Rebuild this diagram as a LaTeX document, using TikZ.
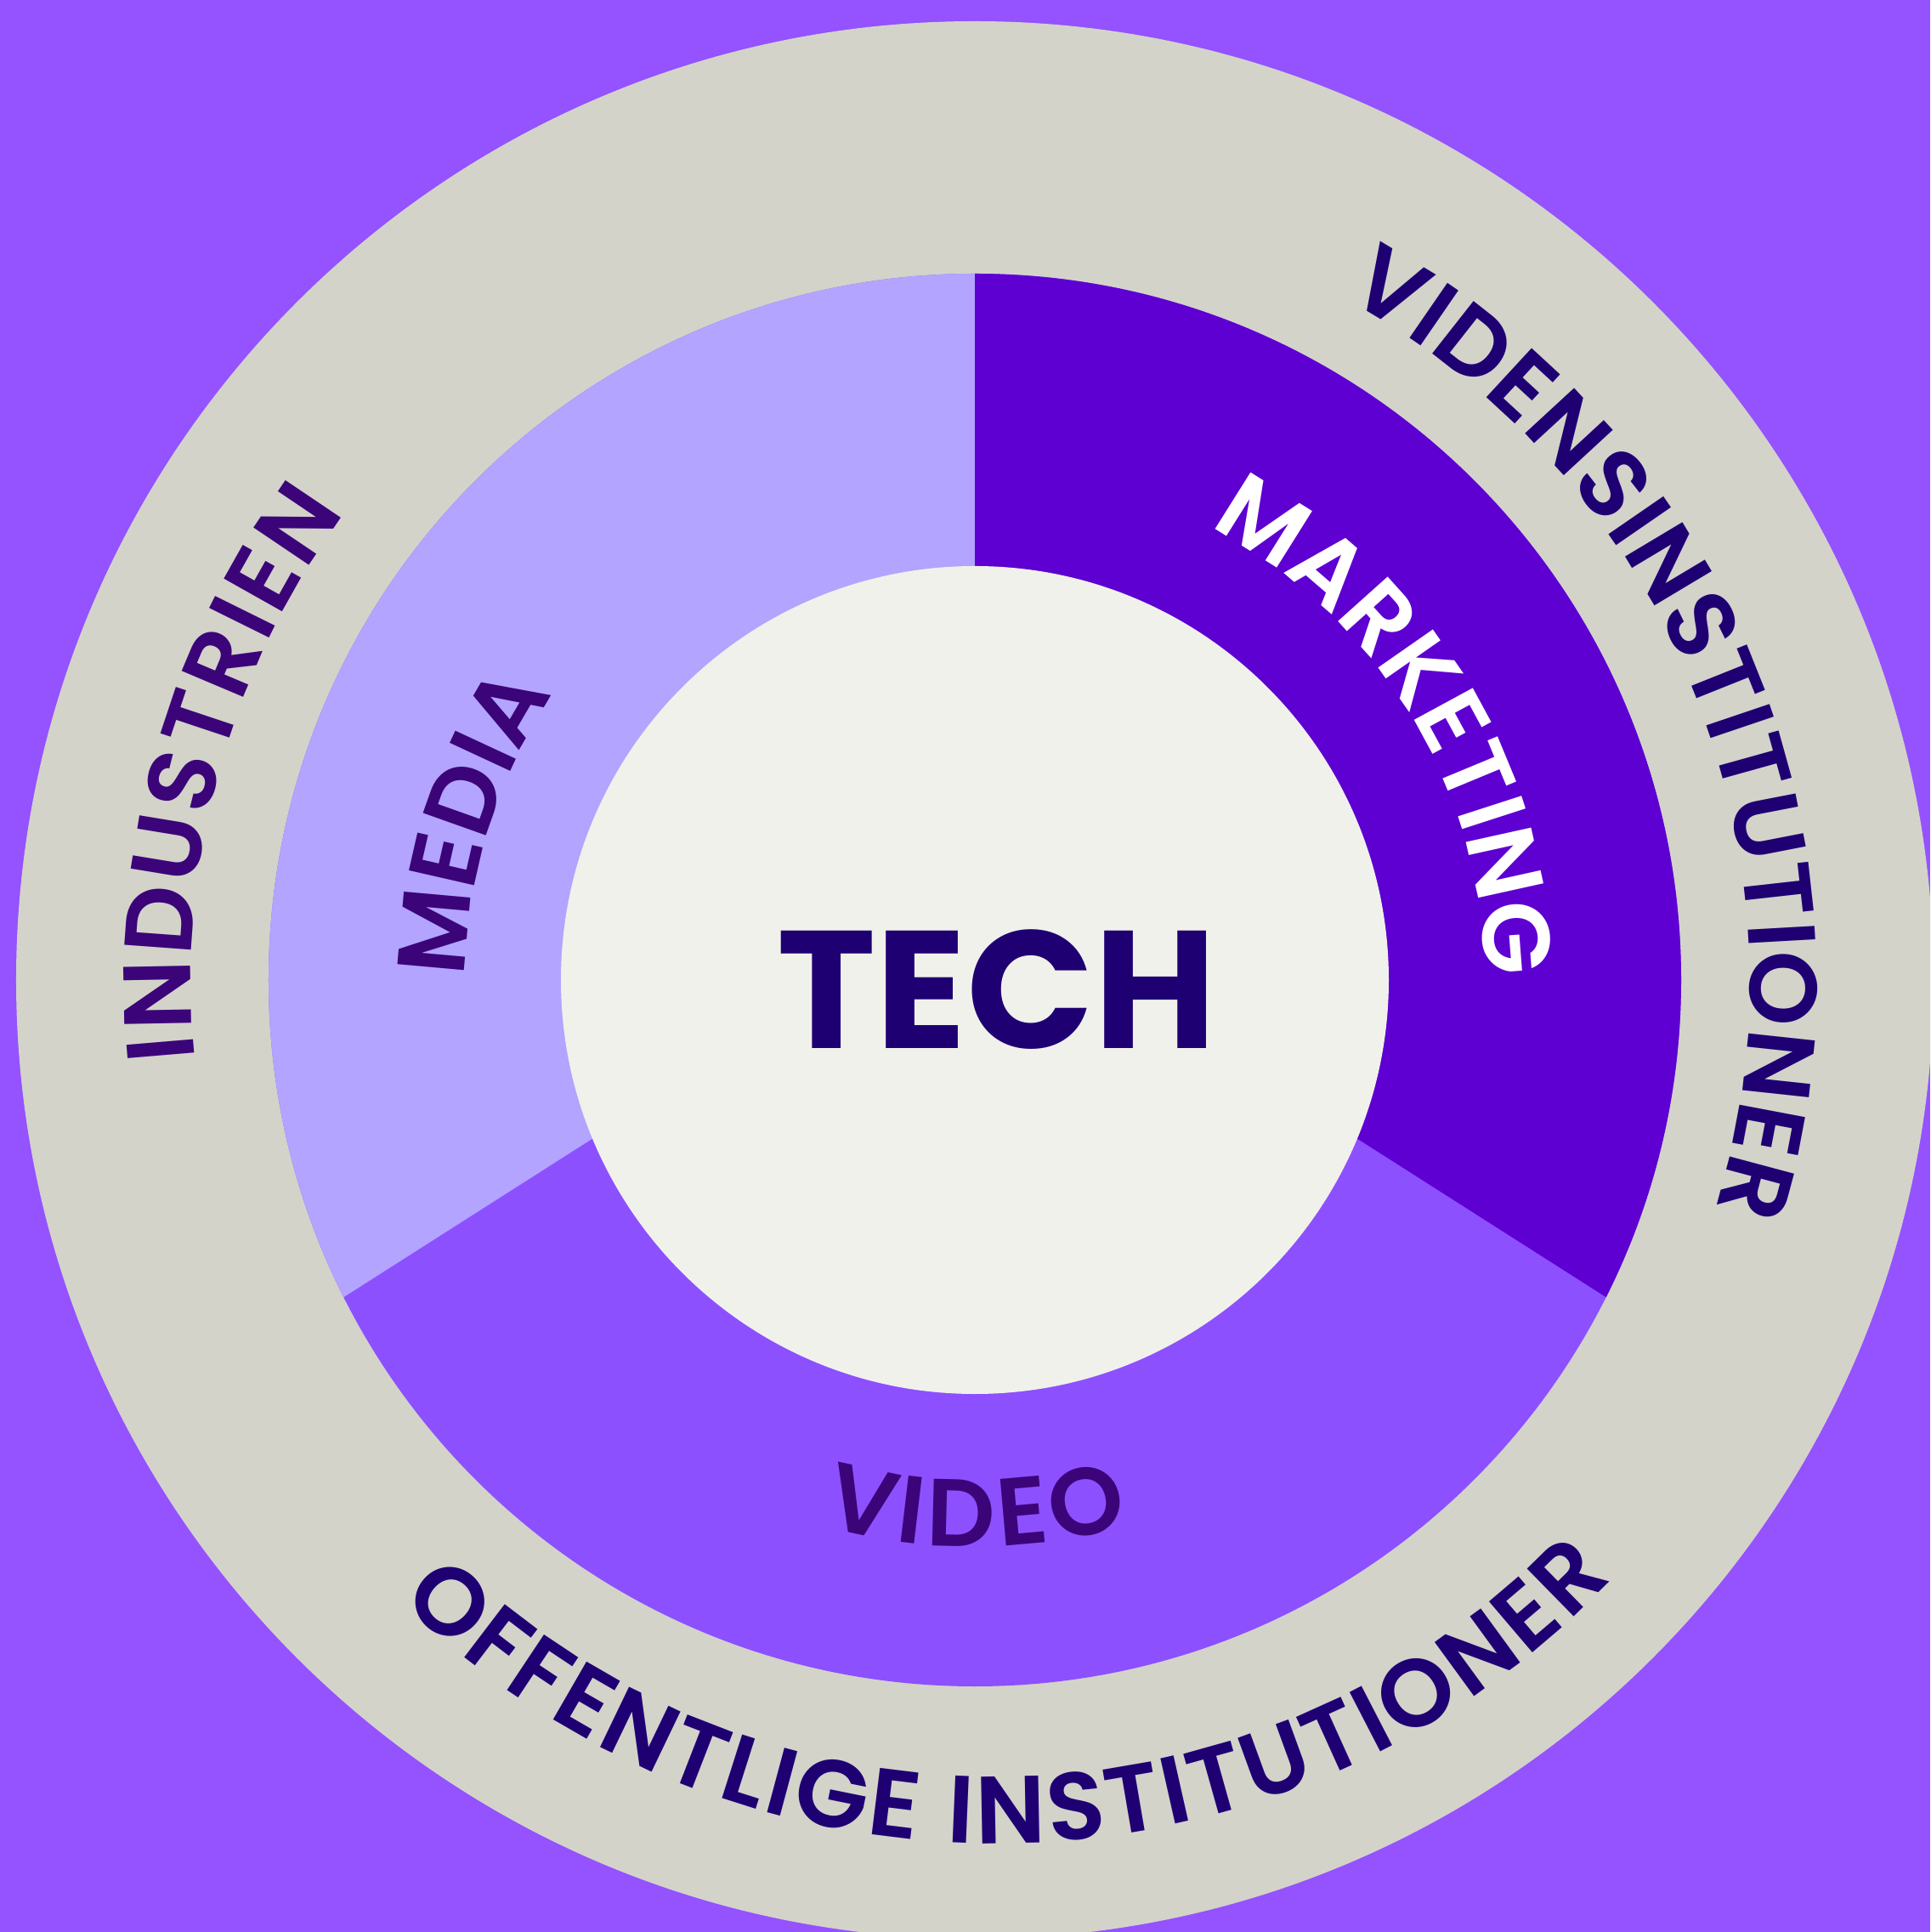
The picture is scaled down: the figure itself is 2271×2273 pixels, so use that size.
\documentclass[tikz,border=0pt]{standalone}
\usepackage{fontspec}
\setmainfont{Poppins}
\newfontfamily\ringfamily{Poppins SemiBold}
\usepackage{xcolor}
\usetikzlibrary{decorations.text}
\definecolor{bgpurple}{HTML}{9552FF}
\definecolor{ringgrey}{HTML}{D3D3CA}
\definecolor{mediacol}{HTML}{B3A4FF}
\definecolor{marketcol}{HTML}{5E00D2}
\definecolor{videocol}{HTML}{8D50FF}
\definecolor{corecol}{HTML}{F0F1EB}
\definecolor{navy}{HTML}{1E0073}
\definecolor{plum}{HTML}{3C0479}
\newcommand\ringfont{\fontsize{32}{38}\selectfont\ringfamily}
\tikzset{
	ringlabel/.style={
			decorate,
			decoration={text along path, text align={fit to path, right indent=2pt}, text={#1}}
		}
}

\begin{document}
\begin{tikzpicture}[x=0.01cm, y=0.01cm]
		\useasboundingbox (-1147,-1120) rectangle (1124,1153);
		\clip (-1147,-1120) rectangle (1124,1153);
		\fill[bgpurple] (-1147,-1120) rectangle (1124,1153);

		% rings
		\fill[ringgrey] (0,0) circle[radius=1128];
		\fill[videocol] (0,0) circle[radius=831];
		\coordinate (split) at (0,100);
		\begin{scope}
			\clip (0,0) circle[radius=831];
			\fill[mediacol]  (0,1000) -- (split) -- ++(212.5:1300) -- (-1200,1000) -- cycle;
			\fill[marketcol] (0,1000) -- (split) -- ++(-32.5:1300) -- (1200,1000) -- cycle;
		\end{scope}
		\fill[corecol] (0,0) circle[radius=487];

		% outer ring
		\path[ringlabel={|\ringfont\color{navy}|VIDENSINSTITUTIONER}] (61.5:912) arc[start angle=61.5, end angle=-17.6, radius=912];
		\path[ringlabel={|\ringfont\color{plum}|INDUSTRIEN}] (185.8:922) arc[start angle=185.8, end angle=143.0, radius=922];
		\path[shift={(24,-14)}, ringlabel={|\ringfont\color{navy}|OFFENTLIGE INSTITUTIONER}] (225.7:1002) arc[start angle=225.7, end angle=316.9, radius=1002];

		% middle ring
		\path[ringlabel={|\ringfont\color{plum}|MEDIA}] (179.7:599) arc[start angle=179.7, end angle=148.4, radius=599];
		\path[ringlabel={|\ringfont\color{white}|MARKETING}] (62.7:600) arc[start angle=62.7, end angle=3.3, radius=600];
		\path[ringlabel={|\ringfont\color{plum}|VIDEO}] (254.5:667) arc[start angle=254.5, end angle=286.4, radius=667];

		\node[font=\fontsize{56}{60}\selectfont\bfseries, text=navy] (tech) at (26,-11) {TECH};
	\end{tikzpicture}
\end{document}
